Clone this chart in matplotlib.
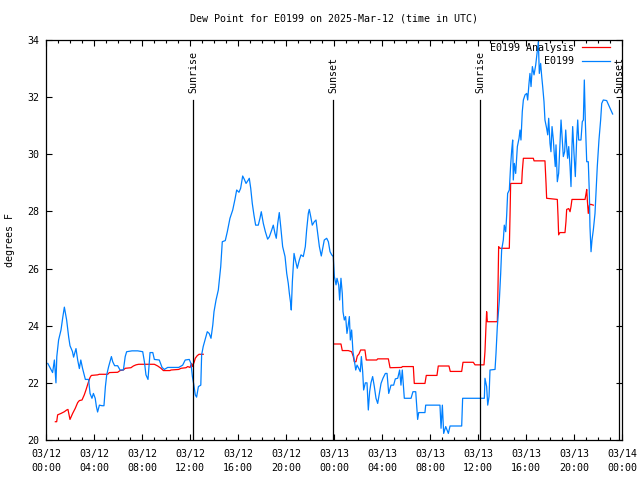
import numpy as np
import matplotlib
matplotlib.use("Agg")
import matplotlib.pyplot as plt
from matplotlib.ticker import MultipleLocator

# hours since 2025-03-12 00:00 UTC
obs_hours = [0.15, 0.55, 0.70, 0.83, 0.90, 1.05, 1.25, 1.40, 1.53, 1.72, 1.89, 2.00, 2.20, 2.30, 2.50,
             2.64, 2.78, 2.90, 3.05, 3.28, 3.55, 3.67, 3.83, 3.95, 4.10, 4.20, 4.30, 4.45, 4.67, 4.83,
             4.95, 5.06, 5.22, 5.45, 5.56, 5.72, 5.97, 6.17, 6.45, 6.60, 6.72, 7.17, 7.64, 8.06, 8.20,
             8.33, 8.50, 8.67, 8.90, 9.03, 9.44, 9.67, 9.86, 10.14, 11.06, 11.39, 11.60, 11.94, 12.08,
             12.20, 12.30, 12.44, 12.55, 12.70, 12.90, 12.97, 13.10, 13.25, 13.44, 13.60, 13.75, 13.90,
             14.00, 14.17, 14.36, 14.56, 14.69, 14.94, 15.11, 15.33, 15.56, 15.75, 15.89, 16.08, 16.22,
             16.39, 16.53, 16.67, 16.86, 16.94, 17.06, 17.19, 17.33, 17.47, 17.69, 17.83, 17.94, 18.11,
             18.28, 18.47, 18.61, 18.81, 18.94, 19.08, 19.19, 19.31, 19.44, 19.56, 19.72, 19.92, 20.06,
             20.19, 20.28, 20.39, 20.44, 20.53, 20.67, 20.78, 20.94, 21.11, 21.25, 21.44, 21.61, 21.72,
             21.86, 21.94, 22.06, 22.19, 22.36, 22.50, 22.64, 22.78, 22.94, 23.06, 23.19, 23.39, 23.53,
             23.67, 23.81, 23.94, 24.03, 24.17, 24.25, 24.39, 24.47, 24.58, 24.69, 24.75, 24.86, 24.97,
             25.08, 25.17, 25.28, 25.36, 25.47, 25.58, 25.69, 25.81, 25.92, 26.06, 26.19, 26.28, 26.39,
             26.47, 26.61, 26.75, 26.86, 26.97, 27.08, 27.22, 27.36, 27.50, 27.64, 27.78, 27.92, 28.08,
             28.28, 28.42, 28.56, 28.75, 28.97, 29.11, 29.31, 29.47, 29.58, 29.69, 29.86, 30.42, 30.58,
             30.81, 30.92, 30.97, 31.06, 31.58, 31.64, 32.83, 32.92, 33.03, 33.14, 33.31, 33.42, 33.53,
             33.67, 34.64, 34.72, 36.53, 36.58, 36.72, 36.81, 36.92, 37.00, 37.42, 37.50, 37.61, 37.78,
             37.89, 37.97, 38.11, 38.19, 38.31, 38.39, 38.47, 38.61, 38.72, 38.81, 38.89, 38.94, 39.03,
             39.14, 39.28, 39.42, 39.50, 39.58, 39.69, 39.78, 39.92, 40.06, 40.14, 40.25, 40.33, 40.42,
             40.53, 40.67, 40.81, 40.89, 41.03, 41.11, 41.22, 41.31, 41.39, 41.50, 41.58, 41.72, 41.81,
             41.89, 42.00, 42.08, 42.17, 42.28, 42.36, 42.44, 42.50, 42.61, 42.72, 42.83, 42.92, 43.00,
             43.11, 43.22, 43.31, 43.39, 43.47, 43.56, 43.67, 43.75, 43.83, 43.89, 44.00, 44.11, 44.22,
             44.31, 44.39, 44.58, 44.69, 44.78, 44.86, 44.94, 45.06, 45.19, 45.28, 45.33, 45.42, 45.50,
             45.61, 45.75, 45.83, 45.94, 46.08, 46.22, 46.31, 46.44, 46.72, 46.94, 47.22]
obs_dewpt = [22.68, 22.36, 22.80, 22.00, 22.92, 23.50, 23.85, 24.30, 24.65, 24.20, 23.60, 23.30, 23.10, 22.90, 23.20,
             22.80, 22.50, 22.80, 22.50, 22.12, 22.12, 21.63, 21.46, 21.63, 21.46, 21.17, 20.98, 21.22, 21.20, 21.20,
             21.87, 22.28, 22.57, 22.92, 22.74, 22.60, 22.60, 22.45, 22.45, 22.92, 23.09, 23.12, 23.12, 23.09, 22.74,
             22.28, 22.12, 23.06, 23.06, 22.82, 22.80, 22.54, 22.47, 22.54, 22.54, 22.62, 22.80, 22.82, 22.68,
             22.22, 21.98, 21.58, 21.50, 21.87, 21.92, 22.98, 23.27, 23.50, 23.79, 23.73, 23.56, 24.03,
             24.49, 24.90, 25.25, 26.07, 26.94, 26.98, 27.29, 27.76, 28.05, 28.43, 28.75, 28.67, 28.81,
             29.24, 29.12, 28.98, 29.10, 29.16, 28.81, 28.28, 27.87, 27.52, 27.52, 27.76, 27.99, 27.58,
             27.29, 27.03, 27.11, 27.35, 27.52, 27.23, 27.06, 27.58, 27.96, 27.47, 26.77, 26.42, 25.83,
             25.48, 25.13, 24.78, 24.55, 25.54, 26.53, 26.30, 26.01, 26.30, 26.48, 26.42, 26.77, 27.35,
             27.93, 28.07, 27.82, 27.52, 27.64, 27.70, 27.23, 26.77, 26.44, 26.71, 27.00, 27.06, 26.94,
             26.59, 26.48, 26.42, 25.72, 25.43, 25.66, 25.43, 24.90, 25.66, 25.13, 24.49, 24.20, 24.32,
             23.73, 23.97, 24.32, 23.50, 23.85, 23.09, 22.80, 22.45, 22.62, 22.51, 22.39, 22.92, 22.39,
             21.75, 22.00, 22.00, 21.05, 21.69, 22.00, 22.22, 21.87, 21.46, 21.28, 21.63, 21.98, 22.16,
             22.33, 22.33, 21.63, 21.92, 21.92, 22.14, 22.16, 22.45, 21.92, 22.45, 21.46, 21.46, 21.69,
             21.69, 21.00, 20.72, 20.96, 20.96, 21.22, 21.22, 20.41, 21.22, 20.23, 20.47, 20.35, 20.23,
             20.49, 20.49, 21.46, 21.46, 22.16, 21.87, 21.22, 21.52, 22.45, 22.47, 23.03, 23.97, 24.90,
             25.83, 26.65, 27.00, 27.52, 27.29, 27.87, 28.63, 28.75, 29.62, 30.15, 30.50, 29.10, 29.68,
             29.33, 30.27, 30.56, 30.85, 30.50, 31.49, 31.90, 32.08, 32.13, 31.90, 32.48, 32.83, 32.37,
             33.07, 32.78, 33.13, 33.42, 33.94, 32.83, 33.18, 32.72, 32.37, 31.84, 31.20, 30.91, 30.68,
             31.26, 30.38, 30.09, 30.97, 30.50, 29.98, 29.57, 30.33, 29.04, 29.33, 30.38, 31.20, 30.68,
             29.92, 30.09, 30.85, 30.27, 29.86, 30.27, 29.57, 28.87, 30.27, 30.97, 30.03, 29.22, 30.50,
             31.20, 30.50, 30.50, 31.14, 31.20, 32.60, 31.20, 29.74, 29.74, 28.63, 27.47, 26.59, 27.00,
             27.35, 27.93, 28.63, 29.57, 30.50, 31.20, 31.78, 31.90, 31.88, 31.67, 31.41]

# analysis, NaN marks the gap in the middle of 03/12
ana_hours = [0.78, 0.89, 0.97, 1.25, 1.53, 1.72, 1.83, 2.00, 2.22, 2.44, 2.64, 2.78, 3.00, 3.19, 3.33,
             3.50, 3.67, 3.78, 4.30, 4.44, 5.14, 5.28, 5.97, 6.17, 6.44, 6.61, 7.08, 7.28, 7.50, 7.72,
             9.03, 9.31, 9.58, 9.78, 10.33, 10.42, 11.06, 11.25, 11.67, 11.81, 12.00, 12.14, 12.20,
             12.36, 12.44, 12.60, 12.75, 13.10, 18.0,
             24.03, 24.58, 24.69, 25.19, 25.47, 25.61, 25.69, 25.83, 25.94, 26.08, 26.22, 26.58, 26.69,
             27.56, 27.64, 28.53, 28.67, 29.64, 29.69, 30.61, 30.69, 31.58, 31.69, 32.58, 32.69, 33.58,
             33.69, 34.64, 34.75, 35.61, 35.75, 36.50, 36.58, 36.67, 36.72, 36.78, 37.61, 37.67, 37.72,
             37.83, 38.61, 38.67, 38.72, 39.64, 39.69, 39.78, 40.61, 40.67, 41.58, 41.67, 41.72, 42.61,
             42.67, 42.72, 42.83, 43.25, 43.33, 43.39, 43.56, 43.67, 43.75, 43.83, 44.92, 45.00, 45.06,
             45.11, 45.19, 45.28, 45.39, 45.61]
ana_dewpt = [20.64, 20.64, 20.88, 20.93, 20.99, 21.05, 21.07, 20.72, 20.93, 21.11, 21.31, 21.38, 21.40, 21.58, 21.75,
             21.98, 22.19, 22.26, 22.28, 22.30, 22.30, 22.36, 22.37, 22.43, 22.45, 22.51, 22.53, 22.59, 22.63, 22.65,
             22.65, 22.59, 22.51, 22.43, 22.43, 22.45, 22.47, 22.51, 22.53, 22.57, 22.54, 22.68, 22.57,
             22.74, 22.86, 22.95, 23.00, 23.00, np.nan,
             23.36, 23.36, 23.13, 23.13, 23.09, 22.92, 22.74, 22.74, 22.94, 23.01, 23.15, 23.15, 22.80,
             22.80, 22.84, 22.84, 22.53, 22.54, 22.57, 22.57, 21.98, 21.98, 22.26, 22.26, 22.59, 22.59,
             22.40, 22.40, 22.72, 22.72, 22.63, 22.63, 23.09, 24.03, 24.49, 24.14, 24.14, 25.43, 26.77,
             26.71, 26.71, 27.87, 28.98, 28.98, 29.39, 29.86, 29.86, 29.77, 29.77, 28.98, 28.46, 28.42,
             27.82, 27.18, 27.26, 27.26, 27.64, 28.07, 28.10, 27.99, 28.17, 28.42, 28.42, 28.61, 28.77,
             28.40, 27.93, 28.22, 28.25, 28.22]

sun_hours = [12.25, 23.92, 36.17, 47.78]
sun_labels = ["Sunrise", "Sunset", "Sunrise", "Sunset"]

xtick_hours = [0, 4, 8, 12, 16, 20, 24, 28, 32, 36, 40, 44, 48]
xtick_labels = ["03/12\n00:00", "03/12\n04:00", "03/12\n08:00", "03/12\n12:00", "03/12\n16:00",
                "03/12\n20:00", "03/13\n00:00", "03/13\n04:00", "03/13\n08:00", "03/13\n12:00",
                "03/13\n16:00", "03/13\n20:00", "03/14\n00:00"]

font = "DejaVu Sans Mono"
fs = 7.2
plt.rcParams['font.family'] = font

fig = plt.figure(figsize=(6.4, 4.8), dpi=100)
ax = fig.add_axes([46 / 640, 40 / 480, 576 / 640, 400 / 480])

ax.plot(ana_hours, ana_dewpt, color="#ff0000", lw=0.9, label="E0199 Analysis")
ax.plot(obs_hours, obs_dewpt, color="#0080ff", lw=0.9, label="E0199")

for h, lab in zip(sun_hours, sun_labels):
    ax.plot([h, h], [20, 31.9], color="black", lw=0.9)
    ax.text(h, 32.15, lab, rotation=90, ha="center", va="bottom", fontsize=fs)

ax.set_xlim(0, 48)
ax.set_ylim(20, 34)
ax.set_xticks(xtick_hours)
ax.set_xticklabels(xtick_labels, fontsize=fs, linespacing=1.45)
ax.xaxis.set_minor_locator(MultipleLocator(1))
ax.yaxis.set_major_locator(MultipleLocator(2))
ax.tick_params(axis="both", which="both", direction="in", top=True, right=True, width=0.8)
ax.tick_params(axis="both", which="major", length=4.5, labelsize=fs)
ax.tick_params(axis="x", which="major", pad=6.5)
ax.tick_params(axis="y", which="major", pad=5)
ax.tick_params(axis="x", which="minor", length=2.2)
for s in ax.spines.values():
    s.set_linewidth(0.9)

ax.set_title("Dew Point for E0199 on 2025-Mar-12 (time in UTC)", fontsize=fs, pad=13)
ax.set_ylabel("degrees F", fontsize=fs)
ax.yaxis.set_label_coords(-31 / 576, 0.5)

ax.legend(loc="upper right", bbox_to_anchor=(1 - 12 / 576, 1 - 3 / 400), frameon=False,
          markerfirst=False, fontsize=fs, handlelength=2.8, handletextpad=0.8,
          labelspacing=0.35, borderpad=0, borderaxespad=0)

fig.savefig("out.png", dpi=100)
